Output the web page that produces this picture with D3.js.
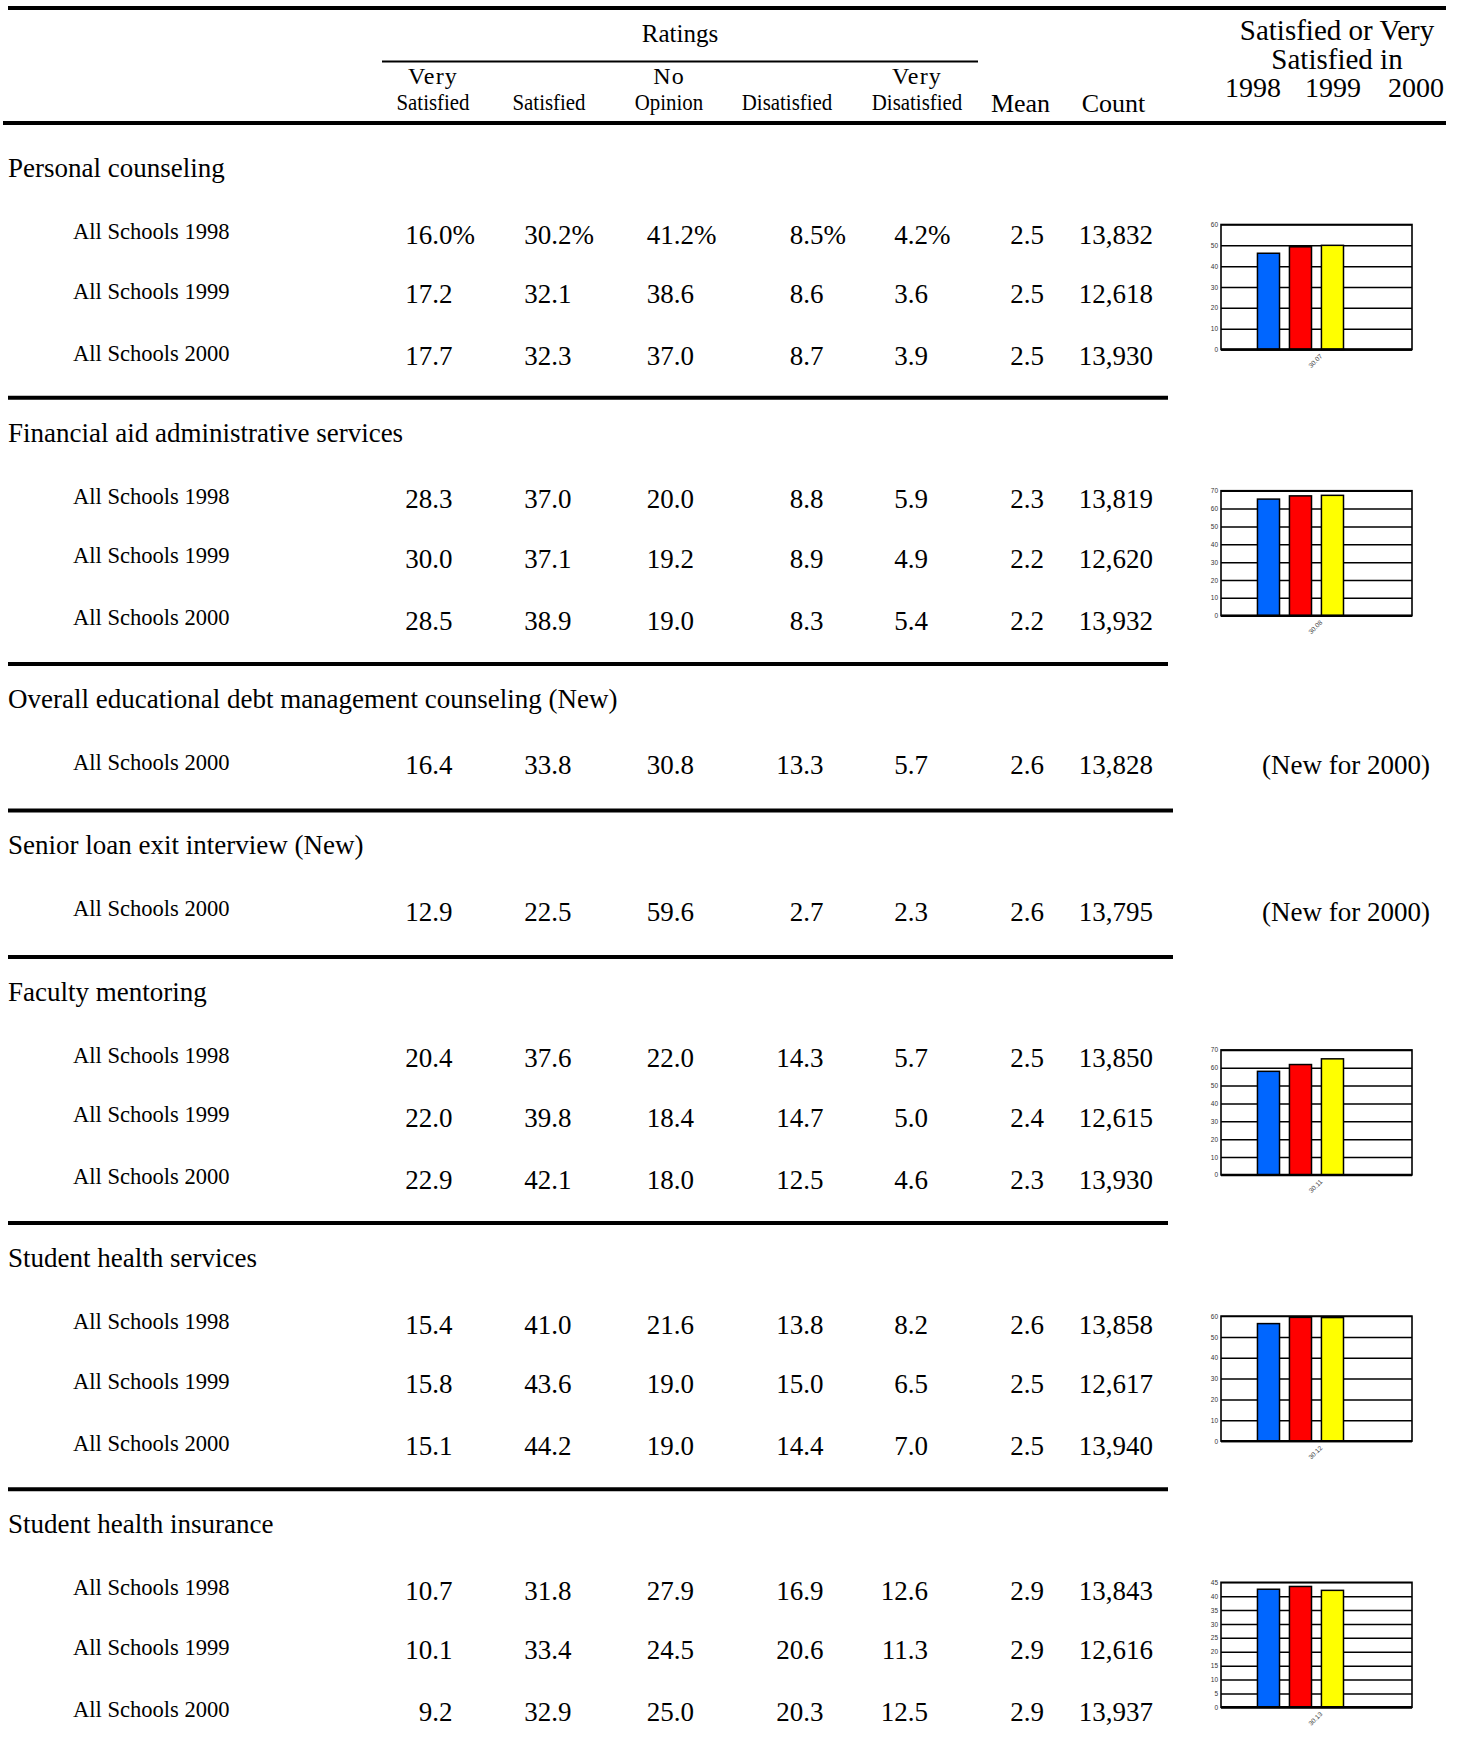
<!DOCTYPE html>
<html><head><meta charset="utf-8">
<script src="https://cdn.jsdelivr.net/npm/d3@7"></script>
<style>body{margin:0;background:#fff}svg{display:block}</style>
</head><body>
<svg id="c" width="1463" height="1747"></svg>
<script>
// ---------- data ----------
const ratingColumns = ["Very Satisfied", "Satisfied", "No Opinion", "Disatisfied", "Very Disatisfied"];
const statColumns = ["Mean", "Count"];
const sections = [
  "Personal counseling",
  "Financial aid administrative services",
  "Overall educational debt management counseling (New)",
  "Senior loan exit interview (New)",
  "Faculty mentoring",
  "Student health services",
  "Student health insurance"
];
const rowYears = [[1998,1999,2000],[1998,1999,2000],[2000],[2000],[1998,1999,2000],[1998,1999,2000],[1998,1999,2000]];
const verySatisfied    = [[16.0,17.2,17.7],[28.3,30.0,28.5],[16.4],[12.9],[20.4,22.0,22.9],[15.4,15.8,15.1],[10.7,10.1,9.2]];
const satisfied        = [[30.2,32.1,32.3],[37.0,37.1,38.9],[33.8],[22.5],[37.6,39.8,42.1],[41.0,43.6,44.2],[31.8,33.4,32.9]];
const noOpinion        = [[41.2,38.6,37.0],[20.0,19.2,19.0],[30.8],[59.6],[22.0,18.4,18.0],[21.6,19.0,19.0],[27.9,24.5,25.0]];
const disatisfied      = [[8.5,8.6,8.7],[8.8,8.9,8.3],[13.3],[2.7],[14.3,14.7,12.5],[13.8,15.0,14.4],[16.9,20.6,20.3]];
const veryDisatisfied  = [[4.2,3.6,3.9],[5.9,4.9,5.4],[5.7],[2.3],[5.7,5.0,4.6],[8.2,6.5,7.0],[12.6,11.3,12.5]];
const means            = [[2.5,2.5,2.5],[2.3,2.2,2.2],[2.6],[2.6],[2.5,2.4,2.3],[2.6,2.5,2.5],[2.9,2.9,2.9]];
const counts           = [[13832,12618,13930],[13819,12620,13932],[13828],[13795],[13850,12615,13930],[13858,12617,13940],[13843,12616,13937]];

// mini charts: "Satisfied or Very Satisfied in 1998 1999 2000"
const chartYears = ["1998","1999","2000"];
const chartSection = [0, 1, 4, 5, 6];
const chartCodes = ["30.07","30.08","30.11","30.12","30.13"];
const chartValues = [[46.2,49.3,50.0],[65.3,67.1,67.4],[58.0,61.8,65.0],[56.4,59.4,59.3],[42.5,43.5,42.1]];
const chartMax = [60, 70, 70, 60, 45];
const chartStep = [10, 10, 10, 10, 5];
const chartColors = ["#0066ff", "#ff0000", "#ffff00"];
const newNote = "(New for 2000)";

// ---------- drawing ----------
const svg = d3.select("#c");
const serif = "'Liberation Serif','Times New Roman',Times,serif";
const sans = "'Liberation Sans',Arial,Helvetica,sans-serif";

function txt(x, y, s, size, anchor) {
  return svg.append("text").attr("x", x).attr("y", y).text(s)
    .attr("font-family", serif).attr("font-size", size).attr("fill", "#000")
    .attr("text-anchor", anchor || "start");
}
function squeezed(x, y, s, size, sx, anchor) {
  return svg.append("text").attr("transform", `translate(${x},${y}) scale(${sx},1)`)
    .text(s).attr("font-family", serif).attr("font-size", size).attr("fill", "#000")
    .attr("text-anchor", anchor || "start");
}
function hline(x1, x2, y, w) {
  svg.append("line").attr("x1", x1).attr("x2", x2).attr("y1", y).attr("y2", y)
    .attr("stroke", "#000").attr("stroke-width", w);
}

// header
hline(8, 1446, 8, 4);
txt(680, 42, "Ratings", 25, "middle");
hline(382, 978, 61.5, 2);
const headCenter = d3.scaleOrdinal().domain(ratingColumns.concat(statColumns))
  .range([433, 549, 669, 787, 917, 1020.5, 1113.5]);
ratingColumns.forEach(c => {
  const parts = c.split(" ");
  if (parts.length > 1) {
    txt(headCenter(c), 84, parts[0], 24, "middle").attr("letter-spacing", 1.2);
    squeezed(headCenter(c), 110, parts.slice(1).join(" "), 24, 0.87, "middle");
  } else {
    squeezed(headCenter(c), 110, c, 24, 0.87, "middle");
  }
});
statColumns.forEach(c => txt(headCenter(c), 112, c, 26, "middle"));
txt(1337, 40, "Satisfied or Very", 29, "middle");
txt(1337, 69, "Satisfied in", 29, "middle");
const yearCenter = d3.scaleOrdinal().domain(chartYears).range([1253, 1333, 1416]);
chartYears.forEach(yr => txt(yearCenter(yr), 97, yr, 28, "middle"));
hline(3, 1446, 123, 4);

// columns (right edges of numbers)
const colRight = d3.scaleOrdinal().domain(ratingColumns.concat(statColumns))
  .range([452.5, 571.6, 694, 823.5, 928, 1044, 1153]);
const ratingData = [verySatisfied, satisfied, noOpinion, disatisfied, veryDisatisfied];
const f1 = d3.format(".1f"), fc = d3.format(",");

function miniChart(k, gx, gy) {
  const w = 191, h = 125;
  const g = svg.append("g").attr("transform", `translate(${gx},${gy})`);
  const y = d3.scaleLinear().domain([0, chartMax[k]]).range([h, 0]);
  const x = d3.scaleBand().domain(chartYears).range([36.45, 122.5]).paddingInner(0.31);
  const ticks = d3.range(0, chartMax[k] + chartStep[k] / 2, chartStep[k]);
  const ax = g.append("g").call(d3.axisLeft(y).tickValues(ticks).tickSize(-w).tickPadding(3).tickFormat(d3.format("d")));
  ax.select(".domain").remove();
  ax.selectAll(".tick line").attr("stroke", "#000").attr("stroke-width", 1.5);
  ax.selectAll(".tick text").attr("font-family", sans).attr("font-size", 6.5).attr("fill", "#333");
  g.selectAll("rect.bar").data(chartValues[k]).join("rect").attr("class", "bar")
    .attr("x", (d, i) => x(chartYears[i])).attr("width", x.bandwidth())
    .attr("y", d => y(d)).attr("height", d => h - y(d))
    .attr("fill", (d, i) => chartColors[i]).attr("stroke", "#000").attr("stroke-width", 1.5);
  g.append("rect").attr("width", w).attr("height", h).attr("fill", "none")
    .attr("stroke", "#000").attr("stroke-width", 1.6);
  g.append("line").attr("x1", 0).attr("x2", w).attr("y1", h).attr("y2", h)
    .attr("stroke", "#000").attr("stroke-width", 2.4);
  g.append("text").attr("transform", `translate(${w / 2 + 3},${h + 4}) rotate(-45)`)
    .attr("text-anchor", "end").attr("dy", "0.7em").attr("font-family", sans)
    .attr("font-size", 6.5).attr("fill", "#444").text(chartCodes[k]);
}

let L = 131.5;
const rowOffset = [106, 165.5, 227.5];
sections.forEach((title, s) => {
  const first = s === 0 ? 1.5 : 0;
  txt(8, L + 44 + first, title, 27, "start");
  const years = rowYears[s];
  years.forEach((yr, i) => {
    const by = L + rowOffset[i] + first;
    squeezed(73, by, "All Schools " + yr, 24, 0.94, "start");
    const ny = by + 4.5;
    ratingColumns.forEach((c, ci) => {
      txt(colRight(c), ny, f1(ratingData[ci][s][i]), 27, "end");
      if (s === 0 && i === 0) txt(colRight(c), ny, "%", 27, "start");
    });
    txt(colRight("Mean"), ny, f1(means[s][i]), 27, "end");
    txt(colRight("Count"), ny, fc(counts[s][i]), 27, "end");
  });
  const k = chartSection.indexOf(s);
  if (k >= 0) miniChart(k, 1221, L + 93);
  else txt(1346, L + 110.5, newNote, 27, "middle");
  const next = L + rowOffset[years.length - 1] + (years.length === 1 ? 40.5 : 38.7);
  if (s < sections.length - 1) hline(8, years.length === 1 ? 1173 : 1168, next, 4);
  L = next;
});
</script>
</body></html>
